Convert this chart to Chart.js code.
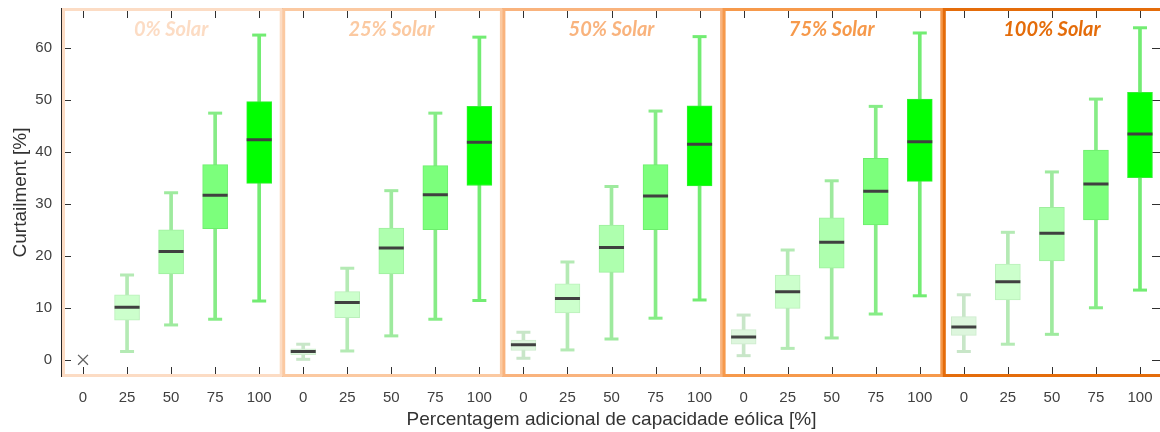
<!DOCTYPE html>
<html>
<head>
<meta charset="utf-8">
<script src="https://cdn.jsdelivr.net/npm/chart.js@4/dist/chart.umd.min.js"></script>
<style>
  html, body { margin: 0; padding: 0; background: #ffffff; overflow: hidden; }
  #wrap { width: 1164px; height: 432px; position: relative; }
</style>
</head>
<body>
<div id="wrap"><canvas id="c" width="1164" height="432"></canvas></div>
<script>
// Additional wind capacity levels (one box per level) and solar groups (panels)
const windLevels = ['0', '25', '50', '75', '100'];
const solarLevels = ['0% Solar', '25% Solar', '50% Solar', '75% Solar', '100% Solar'];
const categories = solarLevels.flatMap(() => windLevels);

// Curtailment [%] box statistics, grouped by solar level, wind 0..100 inside each group
const whiskerLow = [
  null, 1.6, 6.7, 7.8, 11.3,
  0.1, 1.7, 4.6, 7.8, 11.4,
  0.3, 1.9, 4.0, 8.0, 11.5,
  0.8, 2.2, 4.2, 8.8, 12.3,
  1.6, 3.0, 4.9, 10.0, 13.4
];
const quartileLow = [
  null, 7.6, 16.5, 25.2, 33.9,
  1.0, 8.1, 16.5, 25.0, 33.5,
  1.8, 9.0, 16.8, 25.0, 33.4,
  3.0, 9.9, 17.6, 25.9, 34.3,
  4.7, 11.5, 19.0, 26.9, 35.0
];
const median = [
  null, 10.1, 20.8, 31.6, 42.3,
  1.6, 11.0, 21.5, 31.7, 41.8,
  2.9, 11.8, 21.6, 31.5, 41.4,
  4.4, 13.1, 22.6, 32.4, 41.9,
  6.3, 15.0, 24.3, 33.8, 43.4
];
const quartileHigh = [
  null, 12.5, 25.0, 37.5, 49.6,
  2.1, 13.1, 25.3, 37.3, 48.7,
  3.8, 14.6, 25.9, 37.5, 48.8,
  5.8, 16.3, 27.3, 38.7, 50.1,
  8.3, 18.4, 29.3, 40.3, 51.4
];
const whiskerHigh = [
  null, 16.3, 32.1, 47.4, 62.4,
  3.0, 17.6, 32.5, 47.4, 62.0,
  5.3, 18.8, 33.3, 47.8, 62.1,
  8.6, 21.1, 34.4, 48.7, 62.8,
  12.5, 24.5, 36.1, 50.1, 63.8
];
// Case with no curtailment at all (0% solar, 0% extra wind)
const zeroCase = [0].concat(new Array(24).fill(null));

const yTickValues = [0, 10, 20, 30, 40, 50, 60];

// Styling per wind level and per solar panel
const boxFill   = ['#DDF6DD', '#CCFFCC', '#AEFFAE', '#7CFF7C', '#00FF00'];
const boxEdge   = ['#CDEBCD', '#BBF0BB', '#9EEE9E', '#6EEE6E', '#33EE33'];
const whiskerCl = ['#C8E6C8', '#B4EAB4', '#9EEA9E', '#86EC86', '#72EC72'];
const panelColors = ['#FCDCC4', '#FBC9A1', '#F9B37D', '#F6994B', '#E46C0A'];

const byLevel = arr => categories.map((_, i) => arr[i % 5]);
const TICK = 10;

// Keep the plot area fixed: no extra room reserved for edge tick labels
const noEdgePadding = s => { s.paddingTop = 0; s.paddingBottom = 0; s.paddingLeft = 0; s.paddingRight = 0; };

const framePlugin = {
  id: 'frame',
  beforeDatasetsDraw(chart) {
    const { ctx, chartArea: a, scales: { x, y } } = chart;
    ctx.save();
    ctx.strokeStyle = '#262626';
    ctx.lineWidth = 1;
    ctx.strokeRect(a.left + 0.5, a.top + 0.5, a.right - a.left - 1, a.bottom - a.top - 1);
    ctx.strokeStyle = '#303030';
    ctx.beginPath();
    x.ticks.forEach((t, i) => {
      const px = Math.round(x.getPixelForTick(i)) + 0.5;
      ctx.moveTo(px, a.top); ctx.lineTo(px, a.top + TICK);
      ctx.moveTo(px, a.bottom); ctx.lineTo(px, a.bottom - TICK);
    });
    y.ticks.forEach((t, i) => {
      const py = Math.round(y.getPixelForTick(i)) + 0.5;
      ctx.moveTo(a.left, py); ctx.lineTo(a.left + TICK, py);
      ctx.moveTo(a.right, py); ctx.lineTo(a.right - TICK, py);
    });
    ctx.stroke();
    ctx.restore();
  },
  afterDraw(chart) {
    const { ctx, chartArea: a, scales: { x } } = chart;
    ctx.save();
    const n = windLevels.length;
    solarLevels.forEach((name, p) => {
      const first = p * n, last = first + n - 1;
      const x0 = p === 0 ? a.left : (x.getPixelForValue(first - 1) + x.getPixelForValue(first)) / 2;
      const x1 = p === solarLevels.length - 1 ? a.right : (x.getPixelForValue(last) + x.getPixelForValue(last + 1)) / 2;
      ctx.strokeStyle = panelColors[p];
      ctx.lineWidth = 3;
      ctx.strokeRect(x0 + 2.5, a.top + 1.5, x1 - x0 - 2.5, a.bottom - a.top - 3);
      ctx.fillStyle = panelColors[p];
      ctx.font = 'italic bold 20px Lato, "Open Sans", sans-serif';
      ctx.textAlign = 'center';
      ctx.textBaseline = 'middle';
      ctx.fillText(name, (x0 + x1) / 2, a.top + 22);
    });
    ctx.restore();
  }
};

new Chart(document.getElementById('c'), {
  data: {
    labels: categories,
    datasets: [
      {
        type: 'line', label: 'median', order: 0,
        data: median, showLine: false,
        pointStyle: 'line', pointRadius: 12.5, pointBorderWidth: 3,
        pointBorderColor: '#404040', pointBackgroundColor: '#404040'
      },
      {
        type: 'line', label: 'upper cap', order: 1,
        data: whiskerHigh, showLine: false,
        pointStyle: 'line', pointRadius: 7, pointBorderWidth: 3,
        pointBorderColor: byLevel(whiskerCl)
      },
      {
        type: 'line', label: 'lower cap', order: 1,
        data: whiskerLow, showLine: false,
        pointStyle: 'line', pointRadius: 7, pointBorderWidth: 3,
        pointBorderColor: byLevel(whiskerCl)
      },
      {
        type: 'line', label: 'no curtailment', order: 0,
        data: zeroCase, showLine: false,
        pointStyle: 'crossRot', pointRadius: 7, pointBorderWidth: 1.3,
        pointBorderColor: '#606060'
      },
      {
        type: 'bar', label: 'interquartile', order: 2, grouped: false,
        data: quartileLow.map((lo, i) => lo == null ? null : [lo, quartileHigh[i]]),
        backgroundColor: byLevel(boxFill), borderColor: byLevel(boxEdge),
        borderWidth: 1, borderSkipped: false, barThickness: 25
      },
      {
        type: 'bar', label: 'whisker', order: 3, grouped: false,
        data: whiskerLow.map((lo, i) => lo == null ? null : [lo, whiskerHigh[i]]),
        backgroundColor: byLevel(whiskerCl), borderWidth: 0, barThickness: 3
      }
    ]
  },
  options: {
    responsive: false,
    animation: false,
    events: [],
    layout: { autoPadding: false, padding: { top: 8, right: 2, left: 0, bottom: 0 } },
    plugins: { legend: { display: false }, tooltip: { enabled: false } },
    scales: {
      x: {
        type: 'category', offset: true,
        grid: { display: false, drawTicks: false },
        border: { display: false },
        ticks: { color: '#404040', font: { family: '"Liberation Sans", Arial, sans-serif', size: 15 }, padding: 12, maxRotation: 0, autoSkip: false },
        title: { display: true, text: 'Percentagem adicional de capacidade eólica [%]', color: '#333333',
                 font: { family: '"Liberation Sans", Arial, sans-serif', size: 19 }, padding: 1 },
        afterFit: s => { s.height = 55; noEdgePadding(s); }
      },
      y: {
        min: -3.3, max: 67.6,
        grid: { display: false, drawTicks: false },
        border: { display: false },
        afterBuildTicks: s => { s.ticks = yTickValues.map(v => ({ value: v })); },
        ticks: { color: '#404040', font: { family: '"Liberation Sans", Arial, sans-serif', size: 15 }, padding: 9 },
        title: { display: true, text: 'Curtailment [%]', color: '#333333',
                 font: { family: '"Liberation Sans", Arial, sans-serif', size: 19 }, padding: 9 },
        afterFit: s => { s.width = 61; noEdgePadding(s); }
      }
    }
  },
  plugins: [framePlugin]
});
</script>
</body>
</html>
